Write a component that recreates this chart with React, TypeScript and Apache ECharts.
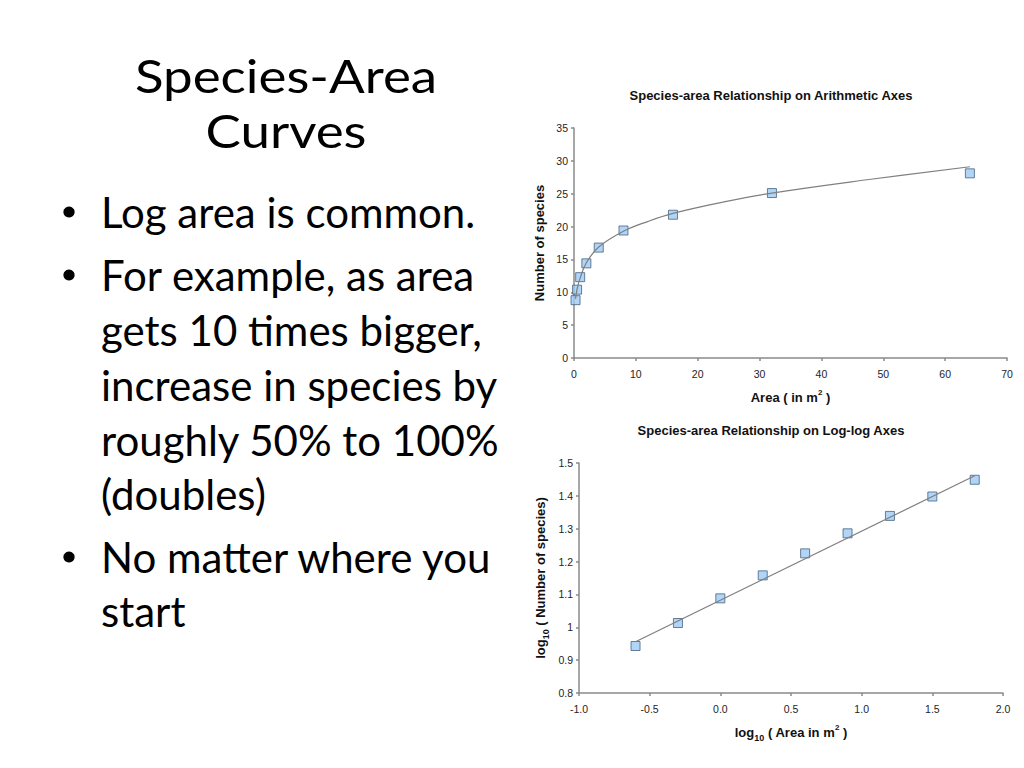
import React, { useEffect, useRef } from "react";
import * as echarts from "echarts";

// ---- Data ----
const areas = [0.25, 0.5, 1, 2, 4, 8, 16, 32, 64];
const species = [8.8, 10.4, 12.3, 14.4, 16.8, 19.4, 21.8, 25.1, 28.1];

// fitted curve on arithmetic axes
const curveX = [0.25, 0.5, 1, 2, 4, 8, 12, 16, 24, 32, 48, 64];
const curveY = [9.0, 10.5, 12.2, 14.5, 16.9, 19.3, 20.8, 22.0, 23.7, 25.1, 27.2, 29.1];

const logAreas = [-0.6, -0.3, 0.0, 0.3, 0.6, 0.9, 1.2, 1.5, 1.8];
const logSpecies = [0.943, 1.013, 1.088, 1.158, 1.225, 1.286, 1.339, 1.398, 1.449];

// fitted straight line on log-log axes (end points)
const fitX = [-0.6, 1.8];
const fitY = [0.956, 1.461];

const slideTitle = ["Species-Area", "Curves"];
const titleBaselines = [93, 148];
const bulletLines = [
  { text: "Log area is common.", bullet: true },
  { text: "For example, as area", bullet: true },
  { text: "gets 10 times bigger,", bullet: false },
  { text: "increase in species by", bullet: false },
  { text: "roughly 50% to 100%", bullet: false },
  { text: "(doubles)", bullet: false },
  { text: "No matter where you", bullet: true },
  { text: "start", bullet: false },
];
const bulletBaselines = [228, 291, 345.5, 400.5, 455.5, 509.5, 573, 627];

const chartTitles = [
  "Species-area Relationship on Arithmetic Axes",
  "Species-area Relationship on Log-log Axes",
];

const SANS = "'Liberation Sans', Arial, sans-serif";
const SLIDE_FONT = "Lato, 'Open Sans', sans-serif";
const TITLE_SIZE = 45.6;
const TITLE_STRETCH = 1.16;
const BULLET_SIZE = 42;

const richAxis = {
  b: { fontFamily: SANS, fontWeight: "bold", fontSize: 13, color: "#111", lineHeight: 19 },
  sup: { fontFamily: SANS, fontWeight: "bold", fontSize: 8, color: "#111", verticalAlign: "top", lineHeight: 10 },
  sub: { fontFamily: SANS, fontWeight: "bold", fontSize: 9, color: "#111", verticalAlign: "bottom", lineHeight: 11 },
};

const axisCommon = {
  axisLine: { show: true, onZero: false, lineStyle: { color: "#8a8a8a", width: 1.5 } },
  axisTick: { show: true, inside: false, length: 3, lineStyle: { color: "#8a8a8a", width: 1.5 } },
  splitLine: { show: false },
  axisLabel: { color: "#1e1e1e", fontFamily: SANS, fontSize: 10.5 },
};

const markerStyle = {
  color: "#9dcbf5",
  borderColor: "#46627f",
  borderWidth: 1,
};

export default function App() {
  const ref = useRef<HTMLDivElement>(null);

  useEffect(() => {
    if (!ref.current) return;
    const chart = echarts.init(ref.current, undefined, { renderer: "svg" });

    const graphics: any[] = [];
    slideTitle.forEach((t, i) => {
      graphics.push({
        type: "text",
        x: 286,
        y: titleBaselines[i] - 0.39 * TITLE_SIZE,
        scaleX: TITLE_STRETCH,
        style: {
          text: t,
          font: `${TITLE_SIZE}px ${SLIDE_FONT}`,
          fill: "#000",
          textAlign: "center",
          textVerticalAlign: "middle",
        },
      });
    });
    bulletLines.forEach((l, i) => {
      const base = bulletBaselines[i];
      graphics.push({
        type: "text",
        x: 101,
        y: base - 0.38 * BULLET_SIZE,
        style: {
          text: l.text,
          font: `${BULLET_SIZE}px ${SLIDE_FONT}`,
          lineHeight: 44,
          fill: "#000",
          textAlign: "left",
          textVerticalAlign: "middle",
        },
      });
      if (l.bullet) {
        graphics.push({
          type: "circle",
          shape: { cx: 69, cy: base - 16, r: 5.6 },
          style: { fill: "#000" },
        });
      }
    });
    const chartTitleY = [95, 430];
    chartTitles.forEach((t, i) => {
      graphics.push({
        type: "text",
        x: 771,
        y: chartTitleY[i],
        style: {
          text: t,
          font: `bold 13px ${SANS}`,
          fill: "#111",
          textAlign: "center",
          textVerticalAlign: "middle",
        },
      });
    });

    chart.setOption({
      animation: false,
      backgroundColor: "#fff",
      graphic: graphics,
      grid: [
        { left: 574, top: 128, width: 433, height: 230 },
        { left: 579, top: 463, width: 424, height: 230 },
      ],
      xAxis: [
        {
          ...axisCommon,
          type: "value",
          gridIndex: 0,
          min: 0,
          max: 70,
          interval: 10,
          name: "{b|Area ( in m}{sup|2}{b| )}",
          nameLocation: "middle",
          nameGap: 30,
          nameTextStyle: { rich: richAxis },
          axisLabel: { ...axisCommon.axisLabel, margin: 10 },
        },
        {
          ...axisCommon,
          type: "value",
          gridIndex: 1,
          min: -1,
          max: 2,
          interval: 0.5,
          name: "{b|log}{sub|10}{b| ( Area in m}{sup|2}{b| )}",
          nameLocation: "middle",
          nameGap: 30,
          nameTextStyle: { rich: richAxis },
          axisLabel: {
            ...axisCommon.axisLabel,
            margin: 10,
            formatter: (v: number) => v.toFixed(1),
          },
        },
      ],
      yAxis: [
        {
          ...axisCommon,
          type: "value",
          gridIndex: 0,
          min: 0,
          max: 35,
          interval: 5,
          name: "{b|Number of species}",
          nameLocation: "middle",
          nameRotate: 90,
          nameGap: 25,
          nameTextStyle: { rich: richAxis },
          axisLabel: { ...axisCommon.axisLabel, margin: 6 },
        },
        {
          ...axisCommon,
          type: "value",
          gridIndex: 1,
          min: 0.8,
          max: 1.5,
          interval: 0.1,
          name: "{b|log}{sub|10}{b| ( Number of species)}",
          nameLocation: "middle",
          nameRotate: 90,
          nameGap: 29,
          nameTextStyle: { rich: richAxis },
          axisLabel: {
            ...axisCommon.axisLabel,
            margin: 6,
            formatter: (v: number) => {
              const r = Math.round(v * 10) / 10;
              return r === 1 ? "1" : r.toFixed(1);
            },
          },
        },
      ],
      series: [
        {
          type: "scatter",
          xAxisIndex: 0,
          yAxisIndex: 0,
          symbol: "rect",
          symbolSize: 9,
          itemStyle: markerStyle,
          data: areas.map((a, i) => [a, species[i]]),
          z: 2,
        },
        {
          type: "line",
          xAxisIndex: 0,
          yAxisIndex: 0,
          smooth: 0.4,
          showSymbol: false,
          symbol: "none",
          lineStyle: { color: "#7f7f7f", width: 1.2 },
          data: curveX.map((x, i) => [x, curveY[i]]),
          z: 3,
        },
        {
          type: "scatter",
          xAxisIndex: 1,
          yAxisIndex: 1,
          symbol: "rect",
          symbolSize: 9,
          itemStyle: markerStyle,
          data: logAreas.map((a, i) => [a, logSpecies[i]]),
          z: 2,
        },
        {
          type: "line",
          xAxisIndex: 1,
          yAxisIndex: 1,
          showSymbol: false,
          symbol: "none",
          lineStyle: { color: "#7f7f7f", width: 1.2 },
          data: fitX.map((x, i) => [x, fitY[i]]),
          z: 3,
        },
      ],
    });

    return () => chart.dispose();
  }, []);

  return (
    <div
      ref={ref}
      style={{ position: "fixed", left: 0, top: 0, width: 1024, height: 768, background: "#fff" }}
    />
  );
}
